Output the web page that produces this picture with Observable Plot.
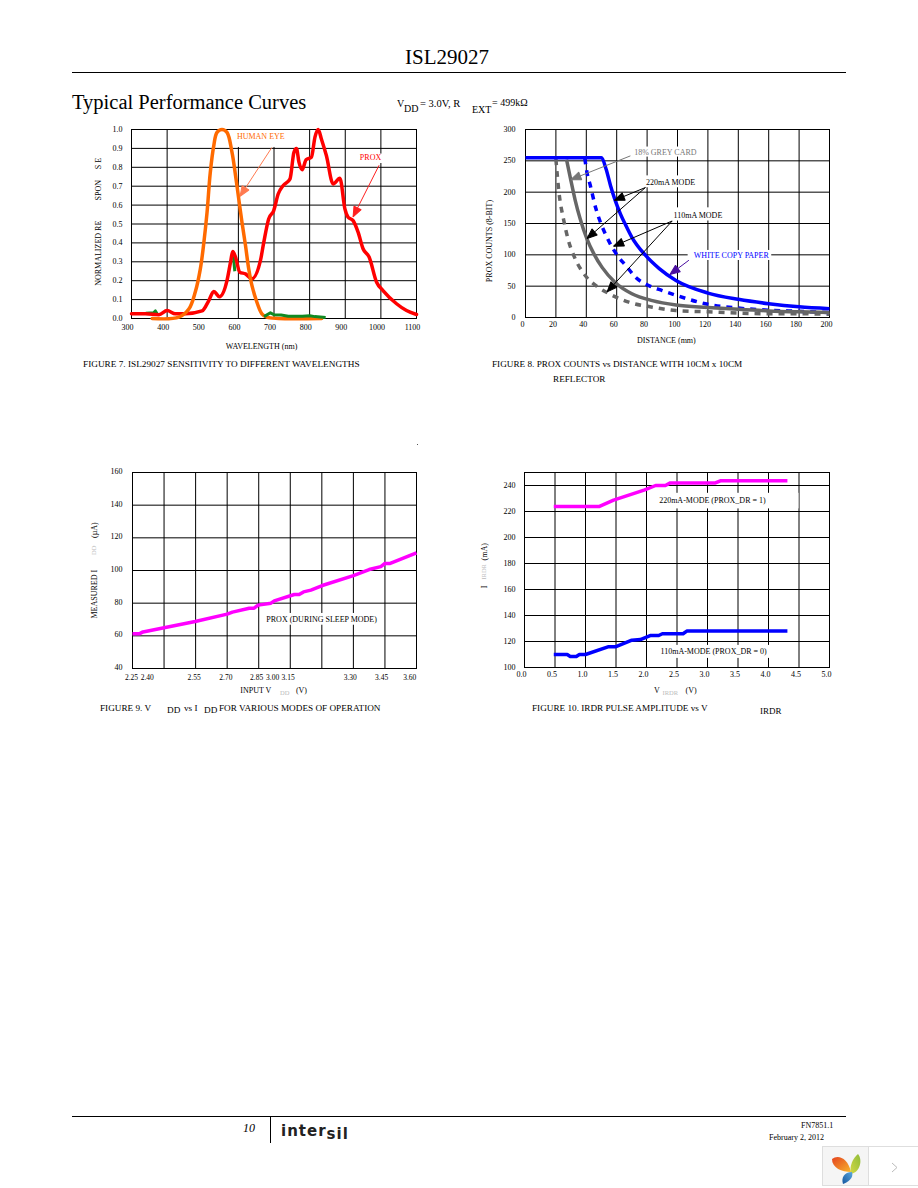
<!DOCTYPE html>
<html><head><meta charset="utf-8">
<script src="https://cdn.jsdelivr.net/npm/d3@7"></script>
<script src="https://cdn.jsdelivr.net/npm/@observablehq/plot@0.6"></script>
<style>
html,body{margin:0;padding:0;background:#fff}
#page{position:relative;width:918px;height:1188px;overflow:hidden;background:#fff;font-family:"Liberation Serif",serif;color:#000}
.t{position:absolute;white-space:pre;line-height:1}
.r{position:absolute;background:#000}
.fig{position:absolute}
</style></head><body><div id="page"></div>
<script>
// ---------- FIGURE 7 ----------
const eyeNm   = [358,433,461,479,493,503,512,521,531,540,554,568,582,592,601,610,620,629,638,652,666,680,713,834];
const eyeResp = [0,.007,.05,.14,.26,.40,.56,.77,.915,.985,1,.985,.88,.757,.633,.51,.386,.263,.175,.086,.025,.007,0,0];
const proxNm  = [300,339,377,400,423,451,498,517,531,547,568,578,584,592,604,620,638,662,671,685,699,712,726,745,756,763,770,779,790,805,815,824,833,847,866,885,899,908,922,936,950,967,988,1006,1044,1072,1100];
const proxResp= [.025,.025,.02,.042,.025,.025,.04,.095,.143,.115,.2,.298,.354,.325,.245,.236,.21,.307,.40,.527,.57,.66,.704,.739,.88,.90,.827,.787,.84,.853,.96,1,.95,.862,.712,.742,.58,.536,.518,.457,.369,.325,.192,.148,.078,.042,.021];
const greenA  = [[300,.027],[340,.028],[362,.03],[367,.04],[372,.025]];
const greenB  = [[586,.33],[590,.25]];
const greenC  = [[672,.01],[690,.03],[700,.02],[720,.018],[740,.012],[780,.012],[800,.015],[815,.01],[845,.005]];
const f7XTicks = [300,400,500,600,700,800,900,1000,1100];
const f7XGrid  = [300,400,600,700,800,900,1000,1100];
const f7YTicks = [0,.1,.2,.3,.4,.5,.6,.7,.8,.9,1];
const f7Masks  = [[590,735,.905,.995],[936,1006,.82,.87]];
const f7Arrows = [[694,.905,604.7,.647,"#ff7a50"],[995,.811,922,.538,"#ff2020"]];
const f7Labels = [["HUMAN EYE",663,.961,"#ff6a00"],["PROX",971,.853,"#ff0000"]];
const f7Titles = [["WAVELENGTH (nm)",665,-.146]];
const f7YTitles= [["NORMALIZED RE",207.5,.345],["SPON",207.5,.679],["S E",207.5,.82]];

// ---------- FIGURE 8 ----------
const bluePts  = [[0,255],[50,255],[53,237],[56,210],[59,187],[62.5,165],[66,147],[70,128],[79,99],[88,78],[99,59],[120,39],[140,29],[160,22],[180,17],[200,14]];
const blueDash = [[39,254],[40.4,232],[42.6,211],[46.4,173],[49.3,152],[53,131],[57,112],[61.4,96],[66,83],[72.5,64],[81,51],[90,43],[99,35.5],[120,21],[140,15],[160,11.7],[180,10],[200,8]];
const greyPts  = [[27,252],[29.4,224],[32.7,187],[36,157],[40.4,125.5],[45,101.6],[50.4,80],[59,56],[70,38],[83.5,27],[99,20],[120,16],[140,13],[160,10.5],[180,9],[200,8]];
const greyDash = [[20,253],[22,200],[25,157],[28,125],[32.7,93.6],[39.3,67],[48,48],[55,38],[68,24.5],[83.5,16.5],[99,11],[120,9],[140,7],[160,6],[180,6],[200,5]];
const f8XTicks = [0,20,40,60,80,100,120,140,160,180,200];
const f8YTicks = [0,50,100,150,200,250,300];
const f8Masks  = [[69,116,256,272],[77,112,207,226],[95,131,154,175],[107,162,91,107]];
const f8Arrows = [[69,257.9,29.9,220,"#777777"],[78.9,207.4,58.5,187,"#000000"],[78.9,207.4,40.5,126,"#000000"],[96.5,154,58,113.8,"#000000"],[96.5,154,53.7,40.9,"#000000"],[107.5,91.4,95,68.6,"#4b0fa0"]];
const f8Labels = [["18% GREY CARD",92,263.8,"#777777"],["220mA MODE",95.4,215.4,"#000000"],["110mA MODE",113.4,163,"#000000"],["WHITE COPY PAPER",135.4,99.4,"#0000ff"]];
const f8Titles = [["DISTANCE (mm)",92.7,-36]];
const f8YTitles= [["PROX COUNTS (8-BIT)",-23.7,122]];

// ---------- FIGURE 9 ----------
const iddPts = [[2.25,61.2],[2.282,61.2],[2.30,62.4],[2.40,64.9],[2.548,68.8],[2.70,73.3],[2.725,74.5],[2.805,76.9],[2.828,76.9],[2.847,78.8],[2.908,80],[2.924,81.4],[3.019,85.3],[3.042,85.3],[3.063,86.9],[3.098,88],[3.152,90.8],[3.30,96.9],[3.375,100.6],[3.43,102.4],[3.45,104.3],[3.475,104.3],[3.60,110.8]];
const f9XGrid = [2.25,2.40,2.55,2.70,2.85,3.00,3.15,3.30,3.45,3.60];
const f9XText = ["2.25","2.40","2.55","2.70","2.85","3.00","3.15","3.30","3.45","3.60"];
const f9XAt   = [2.245,2.32,2.543,2.694,2.84,2.916,2.99,3.285,3.434,3.568];
const f9YTicks = [40,60,80,100,120,140,160];
const f9Masks = [[2.86,3.43,66.5,73.7]];
const f9Labels = [["PROX (DURING SLEEP MODE)",3.149,70.2,"#000000"]];
const f9Titles = [["INPUT V",2.836,26.7],["(V)",3.053,26.3]];
const f9Small  = [["DD",2.974,25.3]];
const f9YTitles= [["MEASURED I",2.068,85.5],["(µA)",2.068,124.7]];
const f9YSmall = [["DD",2.068,112.4]];

// ---------- FIGURE 10 ----------
const pinkPts = [[.48,223.8],[1.22,223.8],[1.46,228.7],[1.96,236.4],[2.15,240],[2.31,240],[2.39,242],[3.13,242],[3.21,243.6],[4.31,243.6]];
const blueIrdr = [[.48,110],[.7,110],[.75,108.5],[.85,108.5],[.9,110],[1,110],[1.38,116],[1.5,116],[1.76,121],[1.9,121.5],[2.06,124.6],[2.2,124.6],[2.26,126],[2.6,126],[2.66,128],[4.31,128]];
const f10XTicks = [0,.5,1,1.5,2,2.5,3,3.5,4,4.5,5];
const f10YGrid  = [100,120,140,160,180,200,220,240];
const f10Masks = [[2.09,4.5,222,234],[2.15,4.06,107,117]];
const f10Labels = [["220mA-MODE (PROX_DR = 1)",3.08,228.5,"#000000"],["110mA-MODE (PROX_DR = 0)",3.1,112.3,"#000000"]];
const f10Titles = [["V",2.17,82],["(V)",2.73,82]];
const f10Small  = [["IRDR",2.39,80.5]];
const f10YTitles= [["I",-.663,162],["(mA)",-.663,189]];
const f10YSmall = [["IRDR",-.663,173.6]];

// ---------- page text ----------
const pageTexts = [
 ["ISL29027",405,47,"21px"],["Typical Performance Curves",72,92,"20.5px"],
 ["V",397,99,"10px"],["DD",404,104,"10px"],["= 3.0V, R",420,99,"10.5px"],["EXT",472,105,"10px"],["= 499kΩ",492,98,"10px"],
 ["FIGURE 7. ISL29027 SENSITIVITY TO DIFFERENT WAVELENGTHS",83,360,"9.25px"],
 ["FIGURE 8. PROX COUNTS vs DISTANCE WITH 10CM x 10CM",492,360,"9.2px"],
 ["REFLECTOR",553,375,"9.2px"],
 ["FIGURE 9. V",100,704,"9.2px"],["DD",167,706,"9.2px"],["vs I",184,704,"9.2px"],["DD",204,706,"9.2px"],["FOR VARIOUS MODES OF OPERATION",219,704,"9.2px"],
 ["FIGURE 10. IRDR PULSE AMPLITUDE vs V",532,704,"9.2px"],["IRDR",760,707,"9px"],
 ["FN7851.1",801,1122,"8px"],["February 2, 2012",769,1134,"8px"]
];

const serif = '"Liberation Serif", serif';
const page = document.getElementById("page");
for (const [s,x,y,size] of pageTexts) {
  const d = document.createElement("div"); d.className="t"; d.textContent=s;
  d.style.left=x+"px"; d.style.top=y+"px"; d.style.fontSize=size; page.appendChild(d);
}
function rule(x,y,w,h){const d=document.createElement("div");d.className="r";d.style.cssText=`left:${x}px;top:${y}px;width:${w}px;height:${h}px`;page.appendChild(d);}
rule(72,72,774,1); rule(72,1116,774,1); rule(270,1117,1,26);
const pn=document.createElement("div");pn.className="t";pn.textContent="10";pn.style.cssText="left:243px;top:1122px;font-size:12px;font-style:italic";page.appendChild(pn);
const dot=document.createElement("div");dot.className="r";dot.style.cssText="left:417px;top:444px;width:1px;height:1px;background:#555";page.appendChild(dot);
const logo=document.createElement("div");logo.className="t";
logo.innerHTML='<span>inter</span><span style="position:relative;top:3px">sil</span>';
logo.style.cssText='left:281px;top:1122px;font:bold 15px "DejaVu Sans",sans-serif;color:#222;letter-spacing:1px';
page.appendChild(logo);
const widget=document.createElement("div");
widget.style.cssText="position:absolute;left:822px;top:1146px;width:96px;height:42px";
widget.innerHTML=`<svg width="96" height="42" xmlns="http://www.w3.org/2000/svg">
<defs><linearGradient id="go" x1="0" y1="0" x2="1" y2="1"><stop offset="0" stop-color="#e5431f"/><stop offset="1" stop-color="#f7b52d"/></linearGradient>
<linearGradient id="gg" x1="1" y1="0" x2="0" y2="1"><stop offset="0" stop-color="#8fbc3a"/><stop offset="1" stop-color="#d3d845"/></linearGradient>
<linearGradient id="gb" x1="1" y1="0" x2="0" y2="1"><stop offset="0" stop-color="#5aa7de"/><stop offset="1" stop-color="#14569f"/></linearGradient></defs>
<rect x="0.5" y="0.5" width="46" height="39" fill="#f5f5f5"/>
<rect x="0.5" y="0.5" width="96" height="39" fill="none" stroke="#dedede"/>
<line x1="46.5" y1="0" x2="46.5" y2="40" stroke="#dedede"/>
<path d="M10 13 C16 8 26 12 29 26 C20 26 10 22 10 13Z" fill="url(#go)"/>
<path d="M36 8 C41 14 38 26 29 28 C27 20 31 12 36 8Z" fill="url(#gg)"/>
<path d="M30 26 C32 32 26 36 21 38 C19 32 22 26 30 26Z" fill="url(#gb)"/>
<path d="M70 17 L75 21.5 L70 26" fill="none" stroke="#bbbbbb"/></svg>`;
page.appendChild(widget);

// ---------- helpers ----------
function head(color, context){
  const m = d3.select(context.document.createElementNS("http://www.w3.org/2000/svg","marker"))
    .attr("viewBox","-11 -5 12 10").attr("refX",0).attr("refY",0)
    .attr("markerWidth",12).attr("markerHeight",10)
    .attr("markerUnits","userSpaceOnUse").attr("orient","auto");
  m.append("path").attr("d","M-10,-4 L0,0 L-10,4 Z").attr("fill",color);
  return m.node();
}
const rows = a => a.map(([x,y])=>({x,y}));
const maskMark = a => Plot.rect(a,{x1:d=>d[0],x2:d=>d[1],y1:d=>d[2],y2:d=>d[3],fill:"white"});
const arrowMarks = a => a.map(d=>Plot.link([d],{x1:d[0],y1:d[1],x2:d[2],y2:d[3],stroke:d[4],strokeWidth:1,markerEnd:head}));
const labelMark = a => Plot.text(a,{text:d=>d[0],x:d=>d[1],y:d=>d[2],fill:d=>d[3],fontSize:8});
const titleMark = (a,fill="#000") => Plot.text(a,{text:d=>d[0],x:d=>d[1],y:d=>d[2],fontSize:8,fill});
const yTitleMark = (a,fill="#000") => Plot.text(a,{text:d=>d[0],x:d=>d[1],y:d=>d[2],rotate:-90,fontSize:8,fill});
const smallMark = a => Plot.text(a,{text:d=>d[0],x:d=>d[1],y:d=>d[2],fontSize:6.5,fill:"#bbb"});
const ySmallMark = a => Plot.text(a,{text:d=>d[0],x:d=>d[1],y:d=>d[2],rotate:-90,fontSize:6.5,fill:"#bbb"});
const line = (a,stroke,extra={}) => Plot.line(rows(a),{x:"x",y:"y",stroke,strokeWidth:3.5,strokeLinejoin:"round",strokeLinecap:"butt",...extra});

function figure(box, xDomain, yDomain, marks){
  const ml=50,mt=8,mr=12,mb=32;
  const el = Plot.plot({
    width: box.r-box.l+ml+mr, height: box.b-box.t+mt+mb,
    marginLeft:ml, marginTop:mt, marginRight:mr, marginBottom:mb,
    x:{domain:xDomain, axis:null}, y:{domain:yDomain, axis:null},
    style:{fontFamily:serif,fontSize:"8px",background:"transparent",overflow:"visible",color:"#000"},
    marks
  });
  const w=document.createElement("div"); w.className="fig";
  w.style.left=(box.l-ml)+"px"; w.style.top=(box.t-mt)+"px";
  w.appendChild(el); page.appendChild(w);
}
const grids = (xs,ys) => [Plot.gridX(xs,{stroke:"#000",strokeOpacity:1,strokeWidth:1}),Plot.gridY(ys,{stroke:"#000",strokeOpacity:1,strokeWidth:1})];
const axX = (t,f,dy,dx) => Plot.axisX(t,{tickSize:0,tickPadding:0,anchor:"bottom",dy,dx,tickFormat:f,label:null,fill:"#000"});
const axY = (t,f,dx,dy) => Plot.axisY(t,{tickSize:0,tickPadding:0,anchor:"left",dx,dy,tickFormat:f,label:null,fill:"#000"});
const frameMark = () => Plot.frame({stroke:"#000",strokeWidth:1});

// Figure 7
figure({l:131,t:129,r:416,b:318},[300,1100],[0,1],[
  ...grids(f7XGrid,f7YTicks), maskMark(f7Masks), frameMark(),
  axX(f7XTicks,d3.format("d"),6,-4), axY(f7YTicks,d3.format(".1f"),-9,0),
  ...[greenA,greenB].map(g=>line(g,"#118a22",{strokeWidth:3})),
  Plot.line(proxNm.map((x,i)=>({x,y:proxResp[i]})),{x:"x",y:"y",stroke:"#ff0000",strokeWidth:3.5,curve:"monotone-x"}),
  Plot.line(eyeNm.map((x,i)=>({x,y:eyeResp[i]})),{x:"x",y:"y",stroke:"#ff6a00",strokeWidth:3.5,curve:"catmull-rom"}),
  line(greenC,"#118a22",{strokeWidth:3}),
  ...arrowMarks(f7Arrows), labelMark(f7Labels), titleMark(f7Titles), yTitleMark(f7YTitles)
]);
// Figure 8
figure({l:525,t:129,r:829,b:317},[0,200],[0,300],[
  ...grids(f8XTicks,f8YTicks), maskMark(f8Masks), frameMark(),
  axX(f8XTicks,d3.format("d"),4,-3), axY(f8YTicks,d3.format("d"),-10,0),
  line(greyDash,"#666",{curve:"monotone-x",strokeDasharray:"6,6"}),
  line(blueDash,"#0000ff",{curve:"monotone-x",strokeDasharray:"6,6"}),
  line(greyPts,"#666",{curve:"monotone-x"}),
  line(bluePts,"#0000ff",{curve:"monotone-x"}),
  ...arrowMarks(f8Arrows), labelMark(f8Labels), titleMark(f8Titles), yTitleMark(f8YTitles)
]);
// Figure 9
figure({l:132,t:472,r:416,b:668},[2.25,3.6],[40,160],[
  ...grids(f9XGrid,f9YTicks), maskMark(f9Masks), frameMark(),
  Plot.text(f9XText,{text:d=>d,x:(d,i)=>f9XAt[i],y:()=>40,dy:9,fontSize:7.5}),
  axY(f9YTicks,d3.format("d"),-10,-1),
  line(iddPts,"#ff00ff"),
  labelMark(f9Labels), titleMark(f9Titles), smallMark(f9Small), yTitleMark(f9YTitles), ySmallMark(f9YSmall)
]);
// Figure 10
figure({l:524,t:472,r:829,b:667},[0,5],[100,250],[
  ...grids(f10XTicks,f10YGrid), maskMark(f10Masks), frameMark(),
  axX(f10XTicks,d3.format(".1f"),4,-3), axY(f10YGrid,d3.format("d"),-9,0),
  line(pinkPts,"#ff00ff"), line(blueIrdr,"#0000ff"),
  labelMark(f10Labels), titleMark(f10Titles), smallMark(f10Small), yTitleMark(f10YTitles), ySmallMark(f10YSmall)
]);
</script></body></html>
